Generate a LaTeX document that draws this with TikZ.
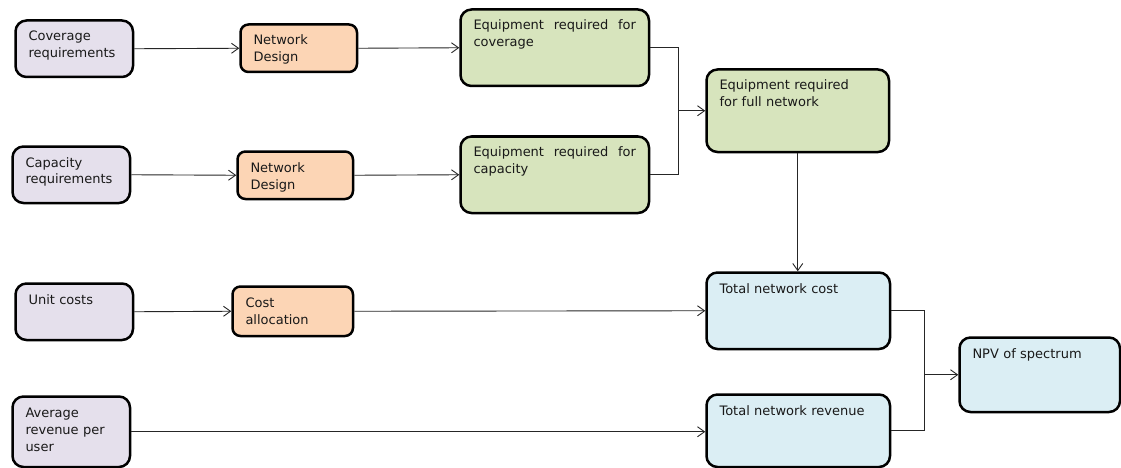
\documentclass[tikz,border=0pt]{standalone}
\usepackage{fontspec}
\setmainfont{DejaVu Sans}
\usetikzlibrary{arrows.meta}

\definecolor{inputfill}{HTML}{E5E0EC}
\definecolor{processfill}{HTML}{FCD5B5}
\definecolor{equipfill}{HTML}{D7E4BD}
\definecolor{resultfill}{HTML}{DBEEF4}

\begin{document}
\begin{tikzpicture}[x=1pt,y=-1pt,
    box/.style={draw=black, line width=2.5pt, rounded corners=11pt, anchor=north west,
      inner xsep=13pt, inner ysep=0pt, text height=20.5pt, align=left,
      text=black!90, font=\fontsize{13pt}{17pt}\selectfont},
    inputbox/.style={box, fill=inputfill},
    processbox/.style={box, fill=processfill, rounded corners=8pt},
    equipbox/.style={box, fill=equipfill},
    resultbox/.style={box, fill=resultfill},
    link/.style={draw=black!85, line width=0.9pt},
    arr/.style={link, -{Straight Barb[length=7pt,width=10pt]}}]
  \useasboundingbox (0,0) rectangle (1121,468);
  % inputs
  \node[inputbox, text width=91.5pt, text depth=36pt] (covreq) at (14.25,19.25) {Coverage\\requirements};
  \node[inputbox, text width=91.5pt, text depth=36pt] (capreq) at (11.25,145.25) {Capacity\\requirements};
  \node[inputbox, text width=91.5pt, text depth=36pt] (unitcost) at (14.25,282.25) {Unit costs};
  \node[inputbox, text width=91.5pt, text depth=50pt] (avgrev) at (11.25,395.25) {Average\\revenue per\\user};
  % processing
  \node[processbox, text width=90.5pt, text depth=27pt] (design1) at (239.25,23.25) {Network\\Design};
  \node[processbox, text width=89.5pt, text depth=27pt] (design2) at (236.25,150.25) {Network\\Design};
  \node[processbox, text width=94.5pt, text depth=29pt] (costalloc) at (231.25,285.25) {Cost\\allocation};
  % equipment
  \node[equipbox, align=justify, text width=162.5pt, text depth=56pt] (eqcov) at (459.25,8.25) {Equipment required for coverage};
  \node[equipbox, align=justify, text width=162.5pt, text depth=56pt] (eqcap) at (459.25,135.25) {Equipment required for capacity};
  \node[equipbox, text width=156.5pt, text depth=62pt] (eqfull) at (705.25,68.25) {Equipment required\\for full network};
  % results
  \node[resultbox, text width=157.5pt, text depth=56pt] (totcost) at (705.25,271.25) {Total network cost};
  \node[resultbox, text width=157.5pt, text depth=52pt] (totrev) at (705.25,393.25) {Total network revenue};
  \node[resultbox, text width=134.5pt, text depth=54pt] (npv) at (958.25,336.25) {NPV of spectrum};

  \coordinate (jfull) at ([xshift=-27pt]eqfull.west);
  \coordinate (jnpv) at ([xshift=-34pt]npv.west);

  \draw[arr] (covreq.east) -- (design1.west);
  \draw[arr] (design1.east) -- (eqcov.west);
  \draw[arr] (capreq.east) -- (design2.west);
  \draw[arr] (design2.east) -- (eqcap.west);
  \draw[link] (eqcov.east) -| (jfull);
  \draw[link] (eqcap.east) -| (jfull);
  \draw[arr] (jfull) -- (eqfull.west);
  \draw[arr] (eqfull.south) -- (eqfull.south |- totcost.north);
  \draw[arr] (unitcost.east) -- (costalloc.west);
  \draw[arr] (costalloc.east) -- (totcost.west);
  \draw[arr] (avgrev.east) -- (avgrev.east -| totrev.west);
  \draw[link] (totcost.east) -| (jnpv);
  \draw[link] (totrev.east) -| (jnpv);
  \draw[arr] (jnpv) -- (npv.west);
\end{tikzpicture}
\end{document}
